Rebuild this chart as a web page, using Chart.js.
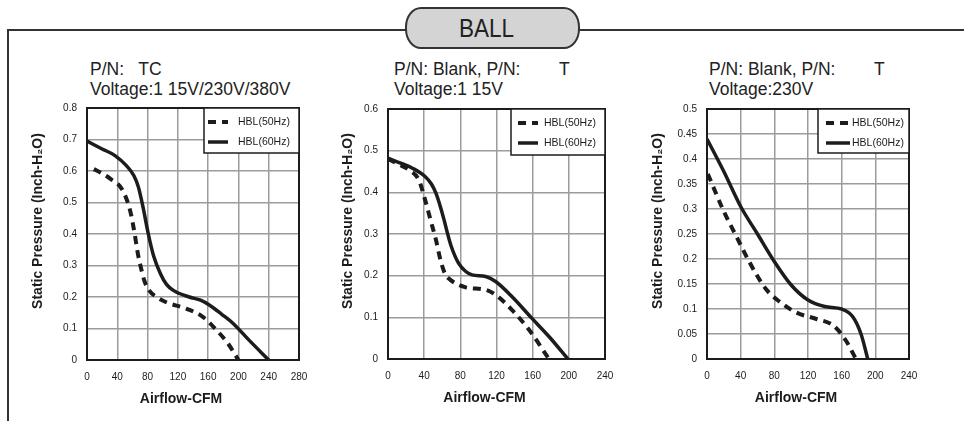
<!DOCTYPE html>
<html>
<head>
<meta charset="utf-8">
<script src="https://cdn.jsdelivr.net/npm/chart.js@4.4.1/dist/chart.umd.min.js"></script>
<style>
    body { margin: 0; width: 964px; height: 421px; background: #fff; position: relative; overflow: hidden;
           font-family: "Liberation Sans", Arial, sans-serif; color: #222; }
    .frame { position: absolute; left: 7px; top: 29px; width: 1000px; height: 500px;
             border-left: 2px solid #333; border-top: 2px solid #333; }
    .pill { position: absolute; left: 405px; top: 7px; width: 171px; height: 38px; border: 2px solid #333;
            border-radius: 16px / 20px; background: #d4d4d4; text-align: center; font-size: 25px; line-height: 38px; }
    .pill span { display: inline-block; position: relative; left: -6px; transform: scaleX(0.9); }
    .head { position: absolute; font-size: 17.5px; line-height: 20px; white-space: pre; }
    .box { position: absolute; }
</style>
</head>
<body>
<div class="frame"></div>
<div class="pill"><span>BALL</span></div>

<div class="head" style="left:90px; top:59px;">P/N:   TC
Voltage:1 15V/230V/380V</div>
<div class="head" style="left:394px; top:59px;">P/N: Blank, P/N:        T
Voltage:1 15V</div>
<div class="head" style="left:709px; top:59px;">P/N: Blank, P/N:        T
Voltage:230V</div>

<div class="box" id="wrap1"><canvas id="chart1"></canvas></div>
<div class="box" id="wrap2"><canvas id="chart2"></canvas></div>
<div class="box" id="wrap3"><canvas id="chart3"></canvas></div>

<script>
// chart 1: P/N TC, 115V/230V/380V
const flow1_50 = [9, 20, 31, 46, 57, 63, 67, 71, 76, 82, 92, 104, 131, 153, 171, 186, 200];
const pres1_50 = [0.606, 0.592, 0.575, 0.543, 0.474, 0.4, 0.34, 0.295, 0.25, 0.221, 0.2, 0.184, 0.163, 0.137, 0.095, 0.053, 0];
const flow1_60 = [0, 20, 37, 52, 62, 68, 74, 81, 88, 97, 105, 114, 135, 150, 162, 178, 193, 214, 240];
const pres1_60 = [0.695, 0.67, 0.649, 0.617, 0.585, 0.548, 0.485, 0.4, 0.33, 0.274, 0.24, 0.221, 0.2, 0.19, 0.174, 0.145, 0.116, 0.063, 0];
const xTicks1 = [0, 40, 80, 120, 160, 200, 240, 280];
const yTicks1 = [0, 0.1, 0.2, 0.3, 0.4, 0.5, 0.6, 0.7, 0.8];

// chart 2: P/N Blank / T, 115V
const flow2_50 = [0, 12, 23, 34, 41, 47, 53, 58, 63, 69, 86, 108, 119, 137, 156, 178];
const pres2_50 = [0.48, 0.467, 0.454, 0.43, 0.382, 0.334, 0.286, 0.238, 0.205, 0.19, 0.172, 0.166, 0.154, 0.118, 0.07, 0];
const flow2_60 = [0, 14, 27, 41, 48, 53, 58, 62, 66, 70, 78, 86, 93, 108, 119, 137, 159, 178, 199];
const pres2_60 = [0.482, 0.47, 0.458, 0.438, 0.42, 0.398, 0.365, 0.334, 0.3, 0.27, 0.23, 0.21, 0.202, 0.198, 0.186, 0.15, 0.098, 0.054, 0];
const xTicks2 = [0, 40, 80, 120, 160, 200, 240];
const yTicks2 = [0, 0.1, 0.2, 0.3, 0.4, 0.5, 0.6];

// chart 3: P/N Blank / T, 230V
const flow3_50 = [1, 20, 35, 50, 70, 86, 106, 130, 150, 165, 177];
const pres3_50 = [0.37, 0.295, 0.245, 0.195, 0.14, 0.115, 0.093, 0.08, 0.067, 0.037, 0];
const flow3_60 = [0, 20, 40, 60, 80, 100, 120, 140, 160, 173, 183, 191];
const pres3_60 = [0.44, 0.375, 0.305, 0.25, 0.195, 0.148, 0.118, 0.105, 0.1, 0.085, 0.05, 0];
const xTicks3 = [0, 40, 80, 120, 160, 200, 240];
const yTicks3 = [0, 0.05, 0.1, 0.15, 0.2, 0.25, 0.3, 0.35, 0.4, 0.45, 0.5];

const seriesLabels = ["HBL(50Hz)", "HBL(60Hz)"];
const xTitle = "Airflow-CFM";
const yTitle = "Static Pressure (Inch-H\u2082O)";

const ink = "#1c1c1c";
const gridGray = "#9c9c9c";
const fontFamily = "'Liberation Sans', Arial, sans-serif";

function points(xs, ys) {
    return xs.map((x, i) => ({ x: x, y: ys[i] }));
}

function fmt(v) {
    return String(Number(v.toFixed(2)));
}

// no extra room for overhanging tick labels, the plot box is placed by hand
function noScalePadding(scale) {
    scale.paddingLeft = 0;
    scale.paddingRight = 0;
    scale.paddingTop = 0;
    scale.paddingBottom = 0;
}

// plot frame, axis titles (a bit off centre, like the original sheet) and the boxed legend
const fanDecor = {
    id: "fanDecor",
    afterDraw(chart, args, opts) {
        const { ctx, chartArea } = chart;
        const midX = (chartArea.left + chartArea.right) / 2;
        const midY = (chartArea.top + chartArea.bottom) / 2;
        ctx.save();
        ctx.strokeStyle = ink;
        ctx.lineWidth = 2;
        ctx.strokeRect(chartArea.left, chartArea.top, chartArea.right - chartArea.left, chartArea.bottom - chartArea.top);

        ctx.fillStyle = ink;
        ctx.font = "bold 14px " + fontFamily;
        ctx.textAlign = "center";
        ctx.textBaseline = "middle";
        ctx.fillText(xTitle, midX - 12, chartArea.bottom + 39);
        ctx.save();
        ctx.translate(chartArea.left - opts.yTitleGap, midY - 13);
        ctx.rotate(-Math.PI / 2);
        ctx.fillText(yTitle, 0, 0);
        ctx.restore();

        const x = chartArea.right - opts.width;
        const y = chartArea.top;
        ctx.fillStyle = "#fff";
        ctx.fillRect(x, y, opts.width, opts.height);
        ctx.lineWidth = 1.5;
        ctx.strokeRect(x, y, opts.width, opts.height);

        ctx.textAlign = "left";
        chart.data.datasets.forEach((ds, i) => {
            const ly = y + 14 + i * 20;
            ctx.beginPath();
            ctx.setLineDash(ds.borderDash || []);
            ctx.lineWidth = ds.borderWidth;
            ctx.strokeStyle = ds.borderColor;
            ctx.moveTo(x + opts.sampleLeft, ly);
            ctx.lineTo(x + opts.sampleLeft + opts.sampleWidth, ly);
            ctx.stroke();
            ctx.setLineDash([]);
            ctx.fillStyle = ink;
            ctx.font = "10.5px " + fontFamily;
            ctx.fillText(ds.label, x + opts.textLeft, ly);
        });
        ctx.restore();
    },
};

function renderFanChart(id, wrapId, plot, series, xTicks, yTicks, decor) {
    const yAxisWidth = 62;
    const top = 98;
    const bottom = 413;
    const right = 14;
    const wrap = document.getElementById(wrapId);
    wrap.style.left = (plot.left - yAxisWidth) + "px";
    wrap.style.top = top + "px";
    wrap.style.width = (plot.right - plot.left + yAxisWidth + right) + "px";
    wrap.style.height = (bottom - top) + "px";

    new Chart(document.getElementById(id), {
        type: "line",
        data: {
            datasets: [
                {
                    label: seriesLabels[0],
                    data: points(series[0], series[1]),
                    borderColor: ink,
                    borderWidth: 4,
                    borderDash: [8, 6],
                    pointRadius: 0,
                    cubicInterpolationMode: "monotone",
                    fill: false,
                },
                {
                    label: seriesLabels[1],
                    data: points(series[2], series[3]),
                    borderColor: ink,
                    borderWidth: 3.5,
                    pointRadius: 0,
                    cubicInterpolationMode: "monotone",
                    fill: false,
                },
            ],
        },
        options: {
            responsive: true,
            maintainAspectRatio: false,
            animation: false,
            layout: { padding: { top: plot.top - top, right: right, left: 0, bottom: 0 } },
            plugins: {
                legend: { display: false },
                tooltip: { enabled: false },
                fanDecor: decor,
            },
            scales: {
                x: {
                    type: "linear",
                    min: xTicks[0],
                    max: xTicks[xTicks.length - 1],
                    afterBuildTicks: (scale) => { scale.ticks = xTicks.map((v) => ({ value: v })); },
                    afterFit: (scale) => { scale.height = bottom - plot.bottom; noScalePadding(scale); },
                    grid: { color: gridGray, lineWidth: 1.5, drawTicks: false },
                    border: { display: false },
                    ticks: { color: ink, padding: 11, font: { size: 10, family: fontFamily } },
                },
                y: {
                    type: "linear",
                    min: yTicks[0],
                    max: yTicks[yTicks.length - 1],
                    afterBuildTicks: (scale) => { scale.ticks = yTicks.map((v) => ({ value: v })); },
                    afterFit: (scale) => { scale.width = yAxisWidth; noScalePadding(scale); },
                    grid: { color: gridGray, lineWidth: 1.5, drawTicks: false },
                    border: { display: false },
                    ticks: { color: ink, padding: 10, font: { size: 10, family: fontFamily }, callback: (v) => fmt(v) },
                },
            },
        },
        plugins: [fanDecor],
    });
}

renderFanChart("chart1", "wrap1", { left: 87, right: 299, top: 108, bottom: 360 },
    [flow1_50, pres1_50, flow1_60, pres1_60], xTicks1, yTicks1,
    { width: 95, height: 45, sampleLeft: 4, sampleWidth: 20, textLeft: 34, yTitleGap: 49 });
renderFanChart("chart2", "wrap2", { left: 388, right: 605, top: 109, bottom: 359 },
    [flow2_50, pres2_50, flow2_60, pres2_60], xTicks2, yTicks2,
    { width: 94, height: 46, sampleLeft: 7, sampleWidth: 20, textLeft: 33, yTitleGap: 40 });
renderFanChart("chart3", "wrap3", { left: 707, right: 909, top: 109, bottom: 359 },
    [flow3_50, pres3_50, flow3_60, pres3_60], xTicks3, yTicks3,
    { width: 91, height: 44, sampleLeft: 8, sampleWidth: 24, textLeft: 34, yTitleGap: 49 });
</script>
</body>
</html>
